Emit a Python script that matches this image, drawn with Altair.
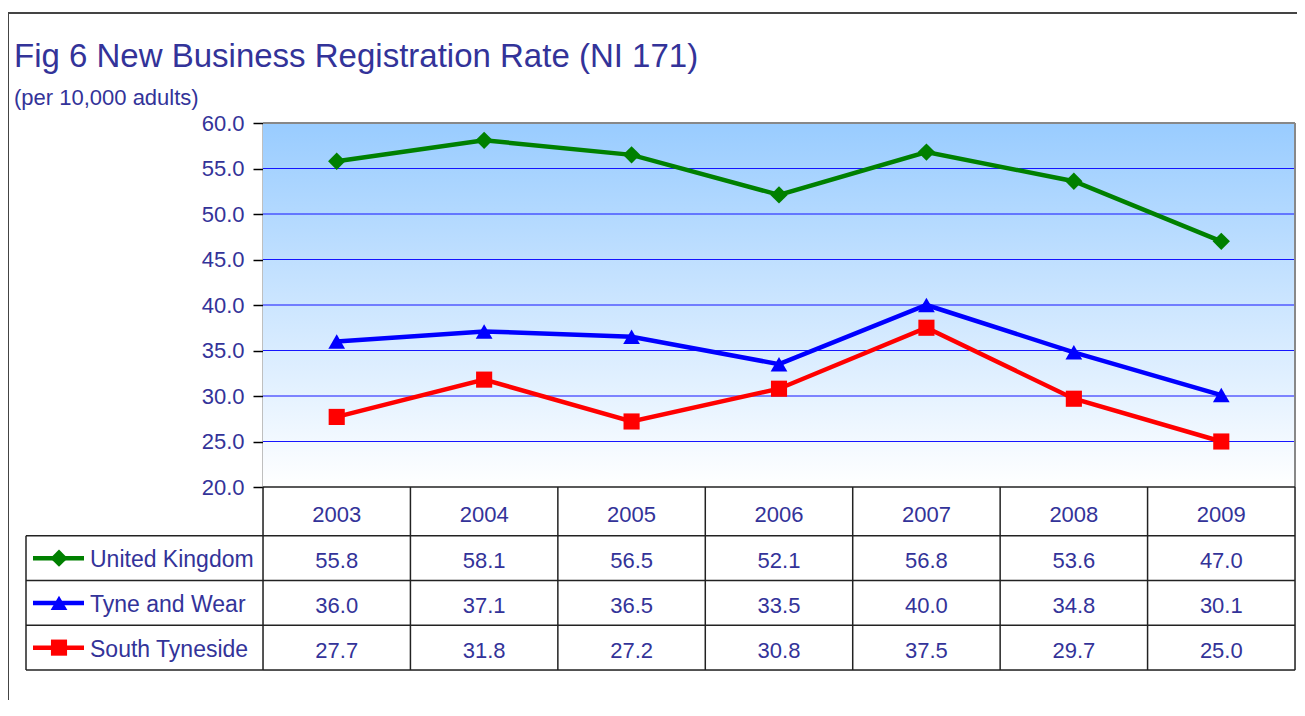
import altair as alt
import pandas as pd

# ---------------- data ----------------
years = ["2003", "2004", "2005", "2006", "2007", "2008", "2009"]
series_names = ["United Kingdom", "Tyne and Wear", "South Tyneside"]
uk = [55.8, 58.1, 56.5, 52.1, 56.8, 53.6, 47.0]
tw = [36.0, 37.1, 36.5, 33.5, 40.0, 34.8, 30.1]
st = [27.7, 31.8, 27.2, 30.8, 37.5, 29.7, 25.0]
y_ticks = [20, 25, 30, 35, 40, 45, 50, 55, 60]
header_label = "Year"
title_text = "Fig 6 New Business Registration Rate (NI 171)"
subtitle_text = "(per 10,000 adults)"

# ---------------- styles ----------------
colors = ["#008000", "#0000FF", "#FF0000"]
shapes = ["diamond", "triangle-up", "square"]
marker_sizes = [300, 260, 200]
W, PLOT_H, H = 1032, 364, 547
TXT = "#333399"
FONT = "Liberation Sans"
LINE = "#222222"

rows = []
for name, vals in zip(series_names, [uk, tw, st]):
    for yr, v in zip(years, vals):
        rows.append({"series": name, "year": yr, "value": v, "row": name})
df = pd.DataFrame(rows)
years_df = pd.DataFrame({"year": years, "row": [header_label] * len(years)})
series_df = pd.DataFrame({"series": series_names, "row": series_names})
ticks_df = pd.DataFrame({"value": y_ticks})
one = pd.DataFrame({"a": [0]})

x_scale = alt.Scale(type="band", domain=years, range=[0, W], paddingInner=0, paddingOuter=0)
y_scale = alt.Scale(domain=[20, 60], range=[PLOT_H, 0], nice=False, zero=False)
row_scale = alt.Scale(type="band", domain=[header_label] + series_names,
                      range=[PLOT_H + 4, H], paddingInner=0, paddingOuter=0)
color_scale = alt.Scale(domain=series_names, range=colors)
shape_scale = alt.Scale(domain=series_names, range=shapes)
size_scale = alt.Scale(domain=series_names, range=marker_sizes)

y_axis = alt.Axis(values=y_ticks, format=".1f", title=None, grid=False,
                  domainColor="#000000", domainWidth=1.5, tickColor="#000000",
                  tickWidth=1.5, tickSize=10, labelPadding=9, labelFontSize=22,
                  labelColor=TXT, labelFont=FONT)

X = alt.X("year:N", scale=x_scale, axis=None, bandPosition=0.5)
Y = alt.Y("value:Q", scale=y_scale, axis=y_axis)
C = alt.Color("series:N", scale=color_scale, legend=None)
S = alt.Shape("series:N", scale=shape_scale, legend=None)
Z = alt.Size("series:N", scale=size_scale, legend=None)

grad = alt.Gradient(gradient="linear",
                    stops=[alt.GradientStop(color="#99CCFF", offset=0),
                           alt.GradientStop(color="#FFFFFF", offset=1)],
                    x1=0, x2=0, y1=0, y2=1)

bg = alt.Chart(one).mark_rect(fill=grad).encode(
    x=alt.value(0), x2=alt.value(W), y=alt.value(0), y2=alt.value(PLOT_H))

grid = alt.Chart(ticks_df).transform_filter("datum.value > 20 && datum.value < 60").mark_rule(
    color="#1515FF", strokeWidth=1).encode(
    x=alt.value(0), x2=alt.value(W), y=Y)

top_border = alt.Chart(one).mark_rule(color="#888888", strokeWidth=2).encode(
    x=alt.value(0), x2=alt.value(W), y=alt.value(0))
right_border = alt.Chart(one).mark_rule(color="#888888", strokeWidth=2).encode(
    x=alt.value(W), y=alt.value(0), y2=alt.value(PLOT_H))

lines = alt.Chart(df).mark_line(strokeWidth=4.5).encode(x=X, y=Y, color=C)
points = alt.Chart(df).mark_point(filled=True, opacity=1).encode(
    x=X, y=Y, color=C, shape=S, size=Z)

plot_layer = alt.layer(bg, grid, top_border, right_border, lines, points)

# ---------------- table ----------------
RY = alt.Y("row:N", scale=row_scale, axis=None, bandPosition=0.5)

header_txt = alt.Chart(years_df).mark_text(fontSize=22, color=TXT, font=FONT,
                                           baseline="middle", dy=2).encode(
    x=X, y=RY, text="year:N")
value_txt = alt.Chart(df).mark_text(fontSize=22, color=TXT, font=FONT,
                                    baseline="middle", dy=3).encode(
    x=X, y=RY, text=alt.Text("value:Q", format=".1f"))

vlines = alt.Chart(years_df).mark_rule(color=LINE, strokeWidth=1.5).encode(
    x=alt.X("year:N", scale=x_scale, axis=None, bandPosition=0),
    y=alt.value(PLOT_H), y2=alt.value(H))
vright = alt.Chart(years_df.tail(1)).mark_rule(color=LINE, strokeWidth=1.5).encode(
    x=alt.X("year:N", scale=x_scale, axis=None, bandPosition=1),
    y=alt.value(PLOT_H), y2=alt.value(H))
htop = alt.Chart(one).mark_rule(color=LINE, strokeWidth=1.5).encode(
    x=alt.value(0), x2=alt.value(W), y=alt.value(PLOT_H))
hlines = alt.Chart(series_df).mark_rule(color=LINE, strokeWidth=1.5).encode(
    y=alt.Y("row:N", scale=row_scale, axis=None, bandPosition=0),
    x=alt.value(-237), x2=alt.value(W))
hbottom = alt.Chart(series_df.tail(1)).mark_rule(color=LINE, strokeWidth=1.5).encode(
    y=alt.Y("row:N", scale=row_scale, axis=None, bandPosition=1),
    x=alt.value(-237), x2=alt.value(W))
vleft = alt.Chart(series_df.head(1)).mark_rule(color=LINE, strokeWidth=1.5).encode(
    x=alt.value(-237),
    y=alt.Y("row:N", scale=row_scale, axis=None, bandPosition=0), y2=alt.value(H))

leg_line = alt.Chart(series_df).mark_rule(strokeWidth=4.5).encode(
    x=alt.value(-230), x2=alt.value(-179), y=RY, color=C)
leg_pt = alt.Chart(series_df).mark_point(filled=True, opacity=1).encode(
    x=alt.value(-204), y=RY, color=C, shape=S, size=Z)
leg_txt = alt.Chart(series_df).mark_text(fontSize=23, color=TXT, font=FONT,
                                         align="left", baseline="middle", dy=2).encode(
    x=alt.value(-173), y=RY, text="series:N")

# ---------------- titles and frame ----------------
title_df = pd.DataFrame({"t": [title_text]})
sub_df = pd.DataFrame({"t": [subtitle_text]})
title = alt.Chart(title_df).mark_text(fontSize=33, color=TXT, font=FONT, align="left",
                                      baseline="alphabetic").encode(
    x=alt.value(-249), y=alt.value(-56), text="t:N")
subtitle = alt.Chart(sub_df).mark_text(fontSize=22, color=TXT, font=FONT, align="left",
                                       baseline="alphabetic").encode(
    x=alt.value(-249), y=alt.value(-18), text="t:N")
frame_top = alt.Chart(one).mark_rule(color="#444444", strokeWidth=2).encode(
    x=alt.value(-255), x2=alt.value(W + 20), y=alt.value(-110))
frame_left = alt.Chart(one).mark_rule(color="#444444", strokeWidth=2).encode(
    x=alt.value(-255), y=alt.value(-110), y2=alt.value(H + 60))

table_layer = alt.layer(vlines, vright, htop, hlines, hbottom, vleft,
                        header_txt, value_txt, leg_line, leg_pt, leg_txt,
                        title, subtitle, frame_top, frame_left)

chart = alt.layer(plot_layer, table_layer).resolve_scale(y="independent").properties(
    width=W, height=H,
    autosize=alt.AutoSizeParams(type="none"),
    padding={"left": 255, "top": 115, "right": 2, "bottom": 30},
).configure_view(stroke=None).configure(font=FONT)

chart.save("out.html", embed_options={"renderer": "svg", "actions": False})
